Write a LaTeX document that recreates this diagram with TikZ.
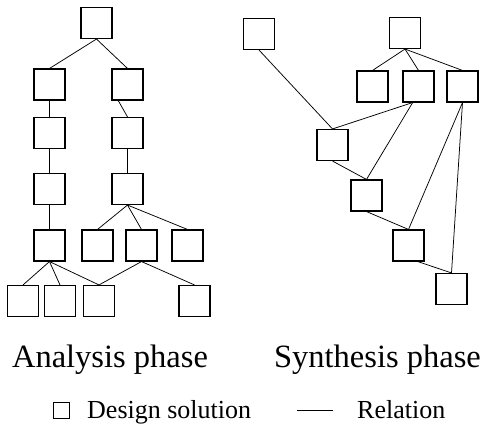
\documentclass[tikz,border=0pt]{standalone}
\usepackage{fontspec}
\setmainfont{Liberation Serif}
\begin{document}
\begin{tikzpicture}[x=1pt,y=-1pt,
  sol/.style={draw, line width=1.1pt, minimum size=31pt, inner sep=0pt},
  rel/.style={line width=0.75pt},
  phase/.style={anchor=base, inner sep=0pt, font=\fontsize{32.5}{39}\selectfont},
  legtext/.style={anchor=base west, inner sep=0pt, font=\fontsize{26}{31}\selectfont}]
\useasboundingbox (0,0) rectangle (486,425);

% analysis phase tree
\node[sol] (a0) at (96.5,23) {};
\node[sol] (a1) at (49.5,84.5) {};
\node[sol] (a2) at (127.5,84.5) {};
\node[sol] (a3) at (49.5,133) {};
\node[sol] (a4) at (127.5,133) {};
\node[sol] (a5) at (49.5,189) {};
\node[sol] (a6) at (127.5,189) {};
\node[sol] (a7) at (49.5,245.5) {};
\node[sol] (a8) at (97.5,245.5) {};
\node[sol] (a9) at (141.5,245.5) {};
\node[sol] (a10) at (187.5,245.5) {};
\node[sol] (a11) at (23,301) {};
\node[sol] (a12) at (60,301) {};
\node[sol] (a13) at (99,301) {};
\node[sol] (a14) at (194.5,301) {};

\draw[rel] (a0.south) -- (a1.north);
\draw[rel] (a0.south) -- (a2.north);
\draw[rel] (a1) -- (a3);
\draw[rel] (a3) -- (a5);
\draw[rel] (a5) -- (a7);
\draw[rel] (a2.-120) -- (a4.north);
\draw[rel] (a4) -- (a6);
\draw[rel] (a6.south) -- (a8.north);
\draw[rel] (a6.south) -- (a9.north);
\draw[rel] (a6.south) -- (a10.north);
\draw[rel] (a7.south) -- (a11.north);
\draw[rel] (a7.south) -- (a12.north);
\draw[rel] (a7.south) -- (a13.north);
\draw[rel] (a9.south) -- (a13.north);
\draw[rel] (a9.south) -- (a14.north);

% synthesis phase network
\node[sol] (b0) at (259,34) {};
\node[sol] (b1) at (405,33) {};
\node[sol] (b2) at (372.5,86.5) {};
\node[sol] (b3) at (418.5,86.5) {};
\node[sol] (b4) at (462.5,86.5) {};
\node[sol] (c1) at (332.5,145) {};
\node[sol] (c2) at (366.5,195.5) {};
\node[sol] (c3) at (408.5,245.5) {};
\node[sol] (c4) at (451.5,289) {};

\draw[rel] (b0.south) -- (c1.north);
\draw[rel] (b1.south) -- (b2.north);
\draw[rel] (b1.south) -- (b3.north);
\draw[rel] (b1.south) -- (b4.north);
\draw[rel] (b3.-110) -- (c1.north);
\draw[rel] (b3.-110) -- (c2.north);
\draw[rel] (c1.south) -- (c2.north);
\draw[rel] (c2.south) -- (c3.north);
\draw[rel] (b4.south) -- (c3.north);
\draw[rel] (b4.south) -- (c4.north);
\draw[rel] (c3.-60) -- (c4.north);

% captions
\node[phase] (cap1) at (110,367) {Analysis phase};
\node[phase] (cap2) at (377.5,367) {Synthesis phase};

% legend
\node[draw, line width=0.8pt, minimum size=16.5pt, inner sep=0pt] (lsq) at (61.5,410.5) {};
\node[legtext] (lsol) at (87,418) {Design solution};
\coordinate (l1) at (297,410);
\coordinate (l2) at (333,410);
\draw[line width=0.7pt] (l1) -- (l2);
\node[legtext] (lrel) at (357,418) {Relation};
\end{tikzpicture}
\end{document}
